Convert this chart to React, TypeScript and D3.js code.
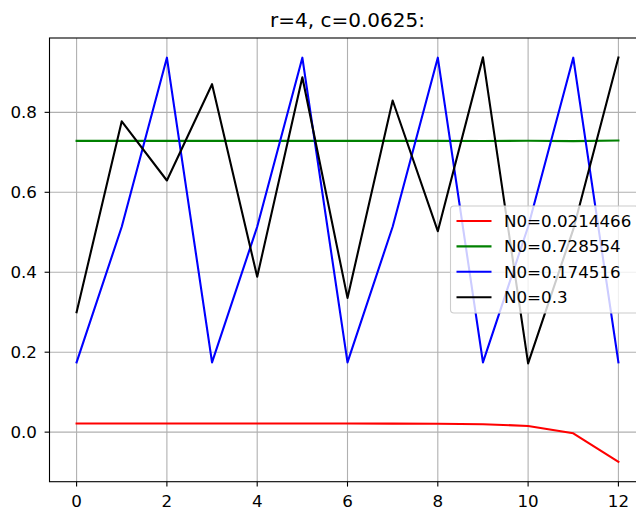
import React from "react";
import * as d3 from "d3";

// time steps
const steps = [0, 1, 2, 3, 4, 5, 6, 7, 8, 9, 10, 11, 12];

// one series per starting value N0
const labels = ["N0=0.0214466", "N0=0.728554", "N0=0.174516", "N0=0.3"];
const colors = ["#ff0000", "#008000", "#0000ff", "#000000"];

const redValues = [0.0214466, 0.0214466, 0.0214465, 0.0214463, 0.0214458, 0.0214440, 0.02142, 0.02134, 0.02104, 0.0199, 0.0155, -0.0029, -0.074];
const greenValues = [0.728554, 0.728554, 0.728554, 0.728554, 0.728554, 0.728555, 0.728551, 0.72856, 0.72863, 0.72841, 0.7288, 0.72809, 0.7294];
const blueValues = [0.174516, 0.51374, 0.93675, 0.174515, 0.51374, 0.93675, 0.17452, 0.51374, 0.93675, 0.17452, 0.51374, 0.93675, 0.17452];
const blackValues = [0.3, 0.7775, 0.6295, 0.8704, 0.3886, 0.8878, 0.3358, 0.8297, 0.5027, 0.9375, 0.172, 0.5071, 0.9373];

const xTicks = [0, 2, 4, 6, 8, 10, 12];
const yTicks = [0.0, 0.2, 0.4, 0.6, 0.8];

const App = () => {
    const width = 636;
    const height = 508;
    const plot = { left: 49.5, right: 645.5, top: 38, bottom: 481.7 };

    const series = [redValues, greenValues, blueValues, blackValues];

    // Define scales
    const xScale = d3.scaleLinear()
        .domain([-0.6, 12.6])
        .range([plot.left, plot.right]);

    const yScale = d3.scaleLinear()
        .domain([-0.124, 0.986])
        .range([plot.bottom, plot.top]);

    const line = d3.line<number>()
        .x((d, i) => xScale(steps[i]))
        .y(d => yScale(d));

    const font = "'DejaVu Sans', sans-serif";
    const legend = { x: 450.5, y: 206, w: 188, h: 107, row: 25.4 };

    return (
        <div style={{ position: "fixed", left: 0, top: 0 }}>
            <svg width={width} height={height} viewBox={`0 0 ${width} ${height}`} style={{ display: "block", background: "#fff" }}>
                <defs>
                    <clipPath id="plotArea">
                        <rect x={plot.left} y={plot.top} width={plot.right - plot.left} height={plot.bottom - plot.top} />
                    </clipPath>
                </defs>

                {/* Grid */}
                {xTicks.map((t, i) => (
                    <line key={`gx${i}`} x1={xScale(t)} x2={xScale(t)} y1={plot.top} y2={plot.bottom} stroke="#b0b0b0" strokeWidth={1.1} />
                ))}
                {yTicks.map((t, i) => (
                    <line key={`gy${i}`} x1={plot.left} x2={plot.right} y1={yScale(t)} y2={yScale(t)} stroke="#b0b0b0" strokeWidth={1.1} />
                ))}

                {/* Lines */}
                <g clipPath="url(#plotArea)">
                    {series.map((values, i) => (
                        <path key={i} d={line(values) || ""} fill="none" stroke={colors[i]} strokeWidth={2.1} strokeLinejoin="round" strokeLinecap="square" />
                    ))}
                </g>

                {/* Spines */}
                <rect x={plot.left} y={plot.top} width={plot.right - plot.left} height={plot.bottom - plot.top} fill="none" stroke="#000" strokeWidth={1.1} />

                {/* X-axis */}
                {xTicks.map((t, i) => (
                    <g key={`tx${i}`} transform={`translate(${xScale(t)},${plot.bottom})`}>
                        <line y2={4.9} stroke="#000" strokeWidth={1.1} />
                        <text y={25.3} textAnchor="middle" style={{ fontSize: "16.7px", fontFamily: font, fill: "#000" }}>{t}</text>
                    </g>
                ))}

                {/* Y-axis */}
                {yTicks.map((t, i) => (
                    <g key={`ty${i}`} transform={`translate(${plot.left},${yScale(t)})`}>
                        <line x2={-4.9} stroke="#000" strokeWidth={1.1} />
                        <text x={-12.5} dy="0.36em" textAnchor="end" style={{ fontSize: "16.7px", fontFamily: font, fill: "#000" }}>{d3.format(".1f")(t)}</text>
                    </g>
                ))}

                {/* Title */}
                <text x={(plot.left + plot.right) / 2} y={26.8} textAnchor="middle" style={{ fontSize: "20px", fontFamily: font, fill: "#000" }}>
                    r=4, c=0.0625:
                </text>

                {/* Legend */}
                <rect x={legend.x} y={legend.y} width={legend.w} height={legend.h} rx={3.5} fill="#fff" fillOpacity={0.8} stroke="#cccccc" strokeWidth={1.1} />
                {labels.map((lab, i) => {
                    const cy = legend.y + 15 + i * legend.row;
                    return (
                        <g key={`lg${i}`}>
                            <line x1={legend.x + 6} x2={legend.x + 41} y1={cy} y2={cy} stroke={colors[i]} strokeWidth={2.1} />
                            <text x={legend.x + 53.5} y={cy} dy="0.36em" style={{ fontSize: "16.7px", fontFamily: font, fill: "#000" }}>{lab}</text>
                        </g>
                    );
                })}
            </svg>
        </div>
    );
};

export default App;
